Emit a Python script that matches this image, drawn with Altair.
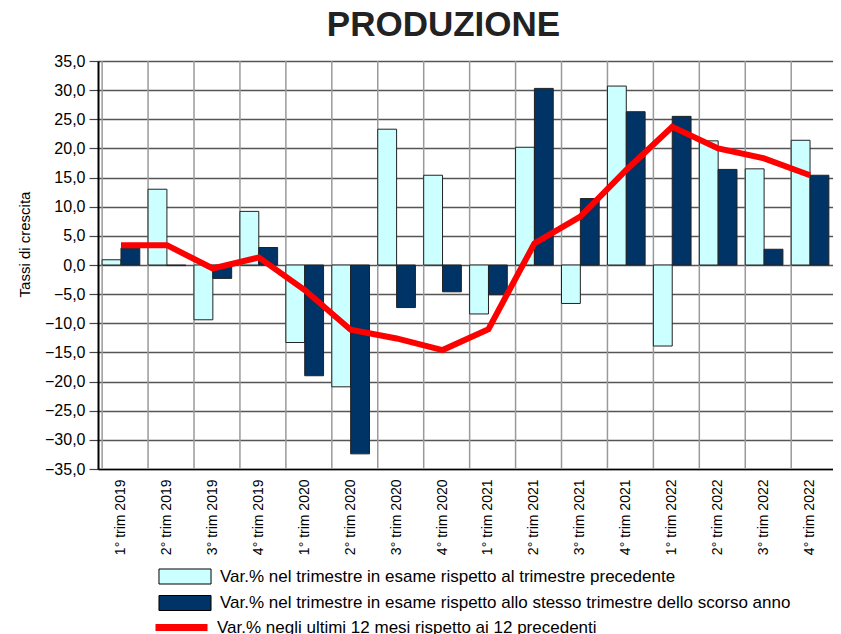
import altair as alt
import pandas as pd

categorie = ["1° trim 2019", "2° trim 2019", "3° trim 2019", "4° trim 2019",
             "1° trim 2020", "2° trim 2020", "3° trim 2020", "4° trim 2020",
             "1° trim 2021", "2° trim 2021", "3° trim 2021", "4° trim 2021",
             "1° trim 2022", "2° trim 2022", "3° trim 2022", "4° trim 2022"]
var_trim_prec = [0.9, 13.0, -9.4, 9.2, -13.3, -20.9, 23.3, 15.4,
                 -8.4, 20.2, -6.6, 30.7, -13.9, 21.3, 16.5, 21.4]
var_trim_anno = [2.9, -0.1, -2.3, 3.0, -19.0, -32.4, -7.3, -4.6,
                 -5.1, 30.3, 11.4, 26.3, 25.5, 16.4, 2.7, 15.4]
var_12_mesi = [3.4, 3.4, -0.6, 1.3, -4.3, -11.1, -12.6, -14.6,
               -11.0, 3.7, 8.3, 16.3, 23.7, 20.0, 18.3, 15.4]
serie = ["Var.% nel trimestre in esame rispetto al trimestre precedente",
         "Var.% nel trimestre in esame rispetto allo stesso trimestre dello scorso anno",
         "Var.% negli ultimi 12 mesi rispetto ai 12 precedenti"]
colori = ["#CCFFFF", "#003366", "#FF0000"]
y_ticks = list(range(-35, 40, 5))

bars = pd.DataFrame(
    [{"cat": c, "serie": serie[0], "val": v} for c, v in zip(categorie, var_trim_prec)]
    + [{"cat": c, "serie": serie[1], "val": v} for c, v in zip(categorie, var_trim_anno)]
)
line = pd.DataFrame({"cat": categorie, "serie": serie[2], "val": var_12_mesi})
cats = pd.DataFrame({"cat": categorie})

x_scale = alt.Scale(domain=categorie, paddingInner=0.18, paddingOuter=0.09)
y_scale = alt.Scale(domain=[-35, 35], nice=False)

x_axis = alt.Axis(title=None, labelAngle=270, labelFontSize=14, labelPadding=10,
                  ticks=False, grid=False, domain=True, domainColor="#000000",
                  domainWidth=1.5, labelColor="#000000", labelOverlap=False)
y_axis = alt.Axis(title="Tassi di crescita", titleFontSize=15, titleFontWeight="normal",
                  titleColor="#000000", titlePadding=12, titleY=183, values=y_ticks,
                  labelExpr="replace(format(datum.value, '.1f'), '.', ',')",
                  labelFontSize=16, labelColor="#000000", labelPadding=4,
                  labelOverlap=False, labelBound=False,
                  tickSize=9, tickColor="#444444", tickWidth=1.2,
                  grid=True, gridColor="#555555", gridWidth=1.5,
                  domain=True, domainColor="#000000", domainWidth=2)

vgrid = alt.Chart(cats).mark_rule(color="#9a9a9a", strokeWidth=1.5).encode(
    x=alt.X("cat:N", bandPosition=0, scale=x_scale, axis=x_axis, sort=categorie),
)

bar_layer = alt.Chart(bars).mark_bar(stroke="#222222", strokeWidth=1).encode(
    x=alt.X("cat:N", scale=x_scale, sort=categorie),
    xOffset=alt.XOffset("serie:N", scale=alt.Scale(domain=serie[:2], paddingInner=0, paddingOuter=0)),
    y=alt.Y("val:Q", scale=y_scale, axis=y_axis),
    fill=alt.Fill("serie:N", scale=alt.Scale(domain=serie[:2], range=colori[:2]),
                  legend=alt.Legend(title=None, orient="none", legendX=78.5, legendY=507,
                                    direction="vertical", labelFontSize=17,
                                    labelColor="#000000", labelOffset=26.5, rowPadding=7.5,
                                    symbolType="M-3.47,-1H3.47V1H-3.47Z", symbolSize=225,
                                    symbolStrokeColor="#000000", symbolStrokeWidth=1,
                                    symbolOpacity=1, padding=0, labelLimit=800)),
)

line_layer = alt.Chart(line).mark_line(strokeWidth=6).encode(
    x=alt.X("cat:N", scale=x_scale, sort=categorie),
    y=alt.Y("val:Q", scale=y_scale, axis=y_axis),
    stroke=alt.Stroke("serie:N", scale=alt.Scale(domain=serie[2:], range=colori[2:]),
                      legend=alt.Legend(title=None, orient="none", legendX=54, legendY=537,
                                        direction="vertical", labelFontSize=17,
                                        labelColor="#000000", labelOffset=6,
                                        symbolType="stroke", symbolSize=2704,
                                        symbolStrokeWidth=7, symbolOpacity=1,
                                        padding=0, labelLimit=800)),
)

chart = alt.layer(vgrid, bar_layer, line_layer).properties(
    width=735, height=408,
    title=alt.TitleParams("PRODUZIONE", fontSize=35, fontWeight="bold", color="#222222",
                          font="Liberation Sans", anchor="middle", dx=-22, offset=10),
    autosize=alt.AutoSizeParams(type="none"),
    padding={"left": 90, "top": 53, "right": 0, "bottom": 165},
).configure(font="Liberation Sans").configure_view(stroke=None).configure_axisY(labelOverlap=False)

chart.save("out.html", embed_options={"renderer": "svg", "actions": False})
